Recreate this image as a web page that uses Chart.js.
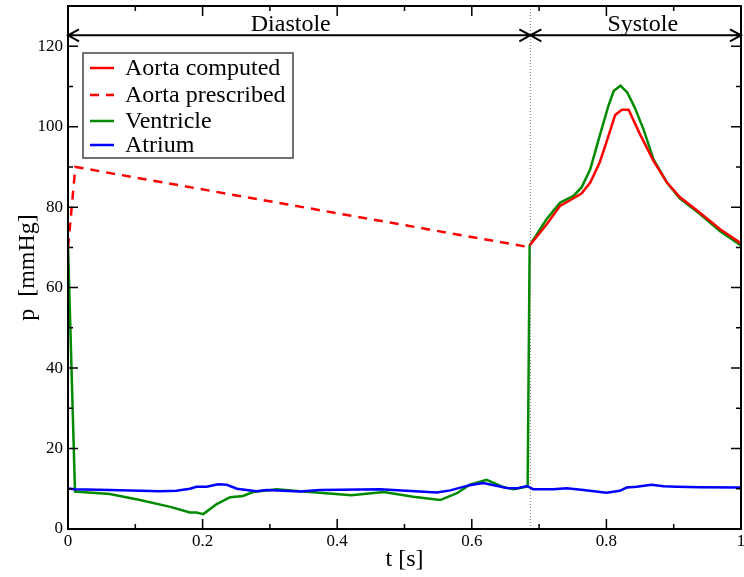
<!DOCTYPE html>
<html>
<head>
<meta charset="utf-8">
<script src="https://cdn.jsdelivr.net/npm/chart.js@4"></script>
<style>
  body { margin: 0; background: #fff; }
</style>
</head>
<body>
<canvas id="myChart" width="744" height="577"></canvas>
<script>
// end of diastole / start of systole [s]
var tSwitch = 0.687;

var xTicks = [0, 0.2, 0.4, 0.6, 0.8, 1];
var yTicks = [0, 20, 40, 60, 80, 100, 120];

// aorta prescribed (dashed)
var tPrescribed = [0, 0.011, 0.687];
var pPrescribed = [70, 90, 70];

// aorta computed (systole)
var tAorta = [0.686, 0.711, 0.731, 0.748, 0.763, 0.776, 0.790, 0.800, 0.813, 0.823, 0.833, 0.850, 0.870, 0.890, 0.909, 0.939, 0.969, 1.0];
var pAorta = [70.5, 75.7, 80.3, 81.9, 83.4, 86.1, 91.1, 96.1, 102.9, 104.2, 104.2, 98.1, 91.5, 86.1, 82.5, 78.6, 74.5, 71.0];

// ventricle
var tVentricle = [0, 0.0104, 0.062, 0.107, 0.152, 0.181, 0.191, 0.201, 0.221, 0.241, 0.260, 0.275, 0.310, 0.345, 0.374, 0.421, 0.469, 0.513, 0.553, 0.578, 0.597, 0.622, 0.647, 0.662, 0.677, 0.683, 0.686, 0.711, 0.731, 0.751, 0.763, 0.776, 0.790, 0.803, 0.811, 0.821, 0.831, 0.842, 0.855, 0.870, 0.890, 0.909, 0.939, 0.969, 1.0];
var pVentricle = [70.5, 9.3, 8.7, 7.2, 5.5, 4.1, 4.1, 3.7, 6.2, 7.9, 8.2, 9.2, 9.9, 9.4, 9.0, 8.4, 9.2, 8.0, 7.2, 8.9, 11.0, 12.2, 10.4, 9.9, 10.4, 10.6, 70.5, 77.0, 81.1, 82.8, 84.9, 89.4, 97.7, 105.2, 108.9, 110.2, 108.5, 104.8, 99.4, 91.9, 86.1, 82.2, 78.3, 74.0, 70.5];

// atrium
var tAtrium = [0, 0.01, 0.062, 0.137, 0.161, 0.181, 0.191, 0.206, 0.223, 0.236, 0.251, 0.280, 0.295, 0.345, 0.374, 0.464, 0.548, 0.568, 0.597, 0.617, 0.652, 0.667, 0.682, 0.691, 0.721, 0.741, 0.766, 0.800, 0.820, 0.830, 0.845, 0.867, 0.885, 0.904, 0.939, 1.0];
var pAtrium = [10.1, 9.9, 9.7, 9.4, 9.5, 10.0, 10.5, 10.5, 11.1, 11.0, 10.0, 9.4, 9.7, 9.3, 9.7, 9.9, 9.1, 9.6, 10.9, 11.4, 10.2, 10.1, 10.7, 9.9, 9.9, 10.1, 9.7, 9.0, 9.5, 10.3, 10.5, 11.0, 10.6, 10.5, 10.4, 10.3];

function pts(t, p) {
  return t.map(function (v, i) { return { x: v, y: p[i] }; });
}

var serif = "'Liberation Serif', 'Times New Roman', serif";

// frame, inward ticks, phase arrows and the legend box
var decorations = {
  id: "decorations",
  afterDatasetsDraw: function (chart) {
    var c = chart.ctx, a = chart.chartArea;
    var xs = chart.scales.x, ys = chart.scales.y;
    c.save();

    // dotted line at the phase switch
    var xs0 = xs.getPixelForValue(tSwitch);
    c.strokeStyle = "#777";
    c.lineWidth = 1;
    c.setLineDash([1, 2]);
    c.beginPath();
    c.moveTo(xs0, a.top);
    c.lineTo(xs0, a.bottom);
    c.stroke();
    c.setLineDash([]);

    // ticks
    c.strokeStyle = "#000";
    c.lineWidth = 1.5;
    c.beginPath();
    for (var v = 0; v <= 1.0001; v += 0.1) {
      var px = xs.getPixelForValue(v);
      var len = Math.round(v * 10) % 2 === 0 ? 10 : 5;
      c.moveTo(px, a.bottom); c.lineTo(px, a.bottom - len);
      c.moveTo(px, a.top); c.lineTo(px, a.top + len);
    }
    for (var w = 0; w <= 130; w += 10) {
      var py = ys.getPixelForValue(w);
      var l2 = w % 20 === 0 ? 10 : 5;
      c.moveTo(a.left, py); c.lineTo(a.left + l2, py);
      c.moveTo(a.right, py); c.lineTo(a.right - l2, py);
    }
    c.stroke();

    // frame
    c.lineWidth = 2;
    c.strokeRect(a.left, a.top, a.right - a.left, a.bottom - a.top);

    // phase arrows
    var ya = ys.getPixelForValue(122.7);
    var x0 = xs.getPixelForValue(0), x1 = xs.getPixelForValue(1);
    c.lineWidth = 2;
    c.beginPath();
    c.moveTo(x0, ya); c.lineTo(x1, ya);
    function head(x, dir) {
      c.moveTo(x + dir * 11, ya - 6); c.lineTo(x, ya); c.lineTo(x + dir * 11, ya + 6);
    }
    head(x0, 1); head(xs0, -1); head(xs0, 1); head(x1, -1);
    c.stroke();

    c.fillStyle = "#000";
    c.font = "24px " + serif;
    c.textAlign = "center";
    c.textBaseline = "alphabetic";
    c.fillText("Diastole", xs.getPixelForValue(0.331), ya - 4);
    c.fillText("Systole", xs.getPixelForValue(0.854), ya - 4);

    // legend
    var bx = 83, by = 53, bw = 210, bh = 105;
    c.fillStyle = "#fff";
    c.fillRect(bx, by, bw, bh);
    c.strokeStyle = "#444";
    c.lineWidth = 1.5;
    c.strokeRect(bx, by, bw, bh);
    var rows = [68, 95, 121, 145];
    c.font = "24px " + serif;
    c.textAlign = "left";
    c.textBaseline = "middle";
    chart.data.datasets.forEach(function (ds, i) {
      c.strokeStyle = ds.borderColor;
      c.lineWidth = 2.5;
      c.setLineDash(ds.borderDash || []);
      c.beginPath();
      c.moveTo(90, rows[i]); c.lineTo(114, rows[i]);
      c.stroke();
      c.setLineDash([]);
      c.fillStyle = "#000";
      c.fillText(ds.label, 125, rows[i] + 1);
    });

    c.restore();
  }
};

var ctx = document.getElementById("myChart").getContext("2d");
var myChart = new Chart(ctx, {
  type: "line",
  data: {
    datasets: [
      { label: "Aorta computed", data: pts(tAorta, pAorta), borderColor: "#ff0000", order: 1 },
      { label: "Aorta prescribed", data: pts(tPrescribed, pPrescribed), borderColor: "#ff0000", borderDash: [9, 7], order: 3 },
      { label: "Ventricle", data: pts(tVentricle, pVentricle), borderColor: "#008a00", order: 2 },
      { label: "Atrium", data: pts(tAtrium, pAtrium), borderColor: "#0000ff", order: 0 },
    ],
  },
  options: {
    responsive: false,
    animation: false,
    devicePixelRatio: 1,
    elements: {
      line: { borderWidth: 2.5, tension: 0, fill: false },
      point: { radius: 0 },
    },
    layout: { padding: { top: 6, right: 3, left: 0, bottom: 0 } },
    plugins: {
      legend: { display: false },
      tooltip: { enabled: false },
    },
    scales: {
      x: {
        type: "linear",
        min: 0,
        max: 1,
        afterBuildTicks: function (s) { s.ticks = xTicks.map(function (v) { return { value: v }; }); },
        afterFit: function (s) { s.height = 48; s.paddingLeft = 0; s.paddingRight = 0; },
        grid: { display: false, drawTicks: false },
        border: { display: false },
        ticks: {
          color: "#000", font: { family: serif, size: 17 }, padding: 2, maxRotation: 0,
          callback: function (v) { return String(Math.round(v * 10) / 10); },
        },
        title: { display: true, text: "t [s]", color: "#000", font: { family: serif, size: 24 }, padding: { top: 0, bottom: 3 } },
      },
      y: {
        min: 0,
        max: 130,
        afterBuildTicks: function (s) { s.ticks = yTicks.map(function (v) { return { value: v }; }); },
        afterFit: function (s) { s.width = 68; s.paddingTop = 0; s.paddingBottom = 0; },
        grid: { display: false, drawTicks: false },
        border: { display: false },
        ticks: { color: "#000", font: { family: serif, size: 17 }, padding: 5 },
        title: { display: true, text: "p  [mmHg]", color: "#000", font: { family: serif, size: 24 }, padding: { top: 13, bottom: 0 } },
      },
    },
  },
  plugins: [decorations],
});
</script>
</body>
</html>
